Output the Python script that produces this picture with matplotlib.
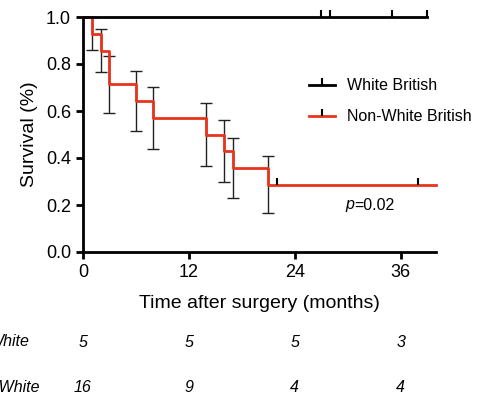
import matplotlib
matplotlib.use('Agg')
from matplotlib import pyplot as plt
from matplotlib import markers

plt.rcParams['font.family'] = ['Liberation Sans', 'DejaVu Sans']

# Kaplan-Meier data
wb_times = [0, 39]
wb_surv = [1.0, 1.0]
wb_censor = [27, 28, 35, 39]

nwb_times = [0, 1, 2, 3, 6, 8, 14, 16, 17, 21, 40]
nwb_surv = [1.0, 0.929, 0.857, 0.714, 0.643, 0.571, 0.5, 0.429, 0.357, 0.286, 0.286]
nwb_censor = [22, 38]
nwb_err = [0.069, 0.093, 0.121, 0.128, 0.132, 0.134, 0.132, 0.128, 0.121]

risk_ticks = [0, 12, 24, 36]
risk_wb = ['5', '5', '5', '3']
risk_nwb = ['16', '9', '4', '4']

RED = '#e8341c'

fig = plt.figure(figsize=(4.79, 4.0), dpi=100)
ax = fig.add_axes([0.173, 0.37, 0.737, 0.5875])

# error bars first so the curves sit on top
ax.errorbar(nwb_times[1:-1], nwb_surv[1:-1], yerr=nwb_err, fmt='none',
            ecolor='#222222', elinewidth=1.0, capsize=4, capthick=1.0, zorder=2, clip_on=False)

ax.step(wb_times, wb_surv, where='post', color='black', lw=2, clip_on=False, zorder=4)
ax.plot(wb_censor, [1.0] * len(wb_censor), ls='none', marker=markers.TICKUP,
        ms=5, mew=1.5, color='black', clip_on=False, zorder=4)

ax.step(nwb_times, nwb_surv, where='post', color=RED, lw=2, clip_on=False, zorder=3)
ax.plot(nwb_censor, [0.286] * len(nwb_censor), ls='none', marker=markers.TICKUP,
        ms=5, mew=1.5, color='black', clip_on=False, zorder=4)

# legend handles: line with a small tick
h1, = ax.plot([], [], color='black', lw=2, marker=markers.TICKUP, ms=5, mew=1.5, mec='black')
h2, = ax.plot([], [], color=RED, lw=2, marker=markers.TICKUP, ms=5, mew=1.5, mec='black')
ax.legend([h1, h2], ['White British', 'Non-White British'], loc='upper left',
          bbox_to_anchor=(0.6, 0.8), frameon=False, fontsize=11.5, handlelength=1.6,
          labelspacing=1.0)

ax.text(30.7, 0.2, 'p', style='italic', fontsize=11.5, ha='right', va='center')
ax.text(30.7, 0.2, '=0.02', fontsize=11.5, ha='left', va='center')

ax.set_xlim(0, 40)
ax.set_ylim(0, 1.0)
ax.set_xticks(risk_ticks)
ax.set_yticks([0, 0.2, 0.4, 0.6, 0.8, 1.0])
ax.set_yticklabels(['0.0', '0.2', '0.4', '0.6', '0.8', '1.0'])
ax.tick_params(direction='out', length=5, width=2, labelsize=13)
for side in ['top', 'right']:
    ax.spines[side].set_visible(False)
for side in ['left', 'bottom']:
    ax.spines[side].set_linewidth(2)

ax.set_ylabel('Survival (%)', fontsize=14, labelpad=6)
ax.set_xlabel('Time after surgery (months)', fontsize=14, labelpad=10)

# numbers at risk
tr = ax.get_xaxis_transform()
for x, a, b in zip(risk_ticks, risk_wb, risk_nwb):
    ax.text(x, -0.385, a, transform=tr, style='italic', fontsize=11.5, ha='center', va='center', clip_on=False)
    ax.text(x, -0.575, b, transform=tr, style='italic', fontsize=11.5, ha='center', va='center', clip_on=False)
fig.text(29 / 479, 1 - 342 / 400, 'White', style='italic', fontsize=11.5, ha='right', va='center')
fig.text(40 / 479, 1 - 387 / 400, 'Non-White', style='italic', fontsize=11.5, ha='right', va='center')

fig.savefig('out.png', dpi=100)
